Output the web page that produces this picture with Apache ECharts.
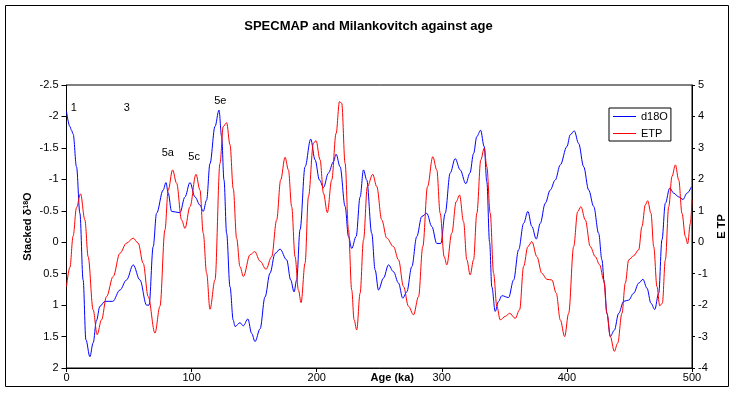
<!DOCTYPE html>
<html>
<head>
<meta charset="utf-8">
<script src="https://cdn.jsdelivr.net/npm/echarts@6/dist/echarts.min.js"></script>
<style>html,body{margin:0;padding:0;background:#fff}#c{width:737px;height:394px}</style>
</head>
<body>
<div id="c"></div>
<script>
// ---- data ----
var d18oAge = [0,2.7,4,5.3,8,10.7,13.3,15.5,18.7,21.3,24,26.7,30.7,37,42.7,48,53.3,58.7,64,66,69.3,72,77.3,79.5,81.3,84,90.7,94.7,98.7,102.7,106.7,109.3,112,114.7,118.7,121.9,124,125.9,128,130.7,133.3,134.7,138.7,141.3,145,148,150.7,154.7,158.7,162.7,166.7,170.7,176,179.2,181.9,184,186.7,190.7,195.2,198.7,202.2,205.4,209.4,213.4,215.5,218.7,222.7,225.4,228,231.5,234.7,237.4,240,244,246.7,249.4,253.4,257.4,261.4,265.4,268.8,272,276,280,284,288,292,296,299.2,302.7,306.7,310.7,314.7,319.2,322.5,325.4,328,331,333.9,336,338.2,340,342.7,345.4,348,353.4,357.4,361.4,365.4,368.8,372,375.5,378.7,382.7,386.7,390.7,394.7,400,402.7,405.9,409.4,413.4,417.4,421.4,425.4,428,429.9,432,434.7,437.9,441.4,445.4,449.4,453.4,457.4,460.8,464,467.2,470.2,473.4,476,478.7,482.2,485.4,489.4,492.8,496,499.5];
var d18oVal = [-2.08,-1.84,-1.78,-1.72,-1.2,-0.46,0.6,1.55,1.82,1.6,1.24,1.02,0.94,0.94,0.76,0.6,0.36,0.6,1.0,1.0,0.07,-0.46,-0.83,-0.95,-0.78,-0.49,-0.47,-0.72,-0.95,-0.72,-0.59,-0.49,-0.67,-1.25,-1.84,-2.1,-1.68,-0.99,-0.14,0.71,1.24,1.34,1.28,1.33,1.22,1.45,1.58,1.38,0.87,0.49,0.18,0.11,0.28,0.6,0.79,0.6,-0.2,-1.2,-1.64,-1.31,-0.99,-0.87,-1.1,-1.28,-1.4,-1.2,-0.57,-0.09,0.1,-0.09,-0.72,-1.15,-0.99,-0.14,0.44,0.76,0.57,0.36,0.47,0.65,0.89,0.79,0.39,-0.09,-0.41,-0.46,-0.25,0.02,0.02,-0.46,-1.1,-1.33,-1.15,-0.93,-1.1,-1.41,-1.68,-1.78,-1.52,-0.96,0.0,0.71,1.1,0.94,0.85,0.88,0.6,0.12,-0.3,-0.49,-0.25,-0.05,-0.3,-0.62,-0.83,-0.99,-1.23,-1.52,-1.71,-1.77,-1.57,-1.2,-0.83,-0.57,-0.14,0.28,0.65,1.13,1.5,1.4,1.13,0.94,0.92,0.81,0.65,0.59,0.73,0.97,1.07,0.81,-0.04,-0.62,-0.86,-0.78,-0.72,-0.68,-0.78,-0.88];
var etpAge = [0,2.7,5.3,8,11.2,14.7,17.3,21.3,24.5,28,32,37.3,42.7,48,53.3,57.3,61.3,65.3,70.7,74.7,78.7,81.3,84.8,88,92,94.7,98.7,103.5,106.7,109.3,112,114.7,118.7,122.7,125.3,128,130.7,133.3,136,138.7,141.4,146.7,150.5,154.7,159.5,164,168,171.2,174.7,177.4,180,182.7,185.4,187.5,190.7,193.4,197.4,199.5,202.7,205.4,208.5,212,215.5,218.2,220,222.7,225.4,228,229.9,232,234.7,237.4,240.5,244.8,248,252,256,261.4,265.4,269.4,273.4,277.4,281.4,284.8,288.6,292.8,296,298.7,301.9,304,308,311.5,314.2,317.4,320,322.7,325.4,328,331.2,333.9,336,338.7,341.4,344,346.7,350.7,354.2,358.7,362.2,365.4,368.8,372,376,380,384,388,391.5,394.7,398.2,401.4,405.4,408.6,411.2,414.7,418.7,422.7,426.2,429.4,432,434.7,437.9,440.6,444,446.7,449.4,453.4,457.4,460,462.7,464.6,467.2,469.4,472,474.2,476.3,478.7,481.4,484,486.7,489.4,492,494.7,496.5,498.7,500];
var etpVal = [-1.41,-0.8,0.2,1.1,1.54,0.71,-0.46,-2.15,-2.94,-2.47,-1.73,-1.09,-0.35,-0.03,0.13,-0.03,-0.67,-1.73,-2.89,-2.04,0.39,1.66,2.3,1.88,0.71,0.44,1.13,2.16,1.66,0.29,-0.98,-2.13,-1.2,2.51,3.68,3.8,3.1,1.7,0.12,-0.78,-1.09,-0.4,-0.3,-0.6,-0.86,-0.46,0.71,1.98,2.7,2.3,1.13,-0.46,-1.52,-1.92,-0.67,1.45,3.15,3.23,2.62,1.56,0.94,1.98,3.46,4.47,4.42,2.51,0.39,-1.52,-2.47,-2.79,-1.62,0.07,1.77,2.16,1.77,0.71,0.13,-0.14,-0.56,-1.41,-2.04,-2.31,-1.73,-0.14,1.77,2.72,2.3,0.92,-0.46,-0.72,0.29,1.29,1.5,0.65,-0.56,-1.04,-0.56,0.92,2.62,2.99,2.4,0.92,-0.99,-2.04,-2.47,-2.36,-2.26,-2.42,-2.15,-0.77,-0.14,0.02,-0.46,-0.99,-1.18,-1.2,-1.62,-2.47,-3.0,-2.26,-0.14,0.97,1.13,0.71,-0.14,-0.46,-0.72,-1.2,-2.26,-3.0,-3.47,-3.21,-2.26,-1.3,-0.56,-0.43,-0.24,0.5,1.19,1.32,0.92,-0.14,-1.41,-2.02,-1.94,-0.56,1.13,2.09,2.46,1.98,0.92,0.18,-0.05,0.6,1.35];
var annLabels = ['1','3','5a','5c','5e'];
var annAge = [5.8,48.3,81,102,123];
var annVal = [-2.13,-2.13,-1.42,-1.36,-2.25];
var xTicks = {min:0, max:500, step:100};
var leftTicks = {min:-2.5, max:2, step:0.5};
var rightTicks = {min:-4, max:5, step:1};

function pairs(a, v){ return a.map(function(x,i){ return [x, v[i]]; }); }

var FONT = 'Liberation Sans, Arial, sans-serif';
var chart = echarts.init(document.getElementById('c'), null, {renderer:'canvas'});
chart.setOption({
  animation: false,
  backgroundColor: '#fff',
  textStyle: {fontFamily: FONT, color:'#000'},
  title: {
    text: 'SPECMAP and Milankovitch against age',
    left: 'center', top: 15,
    textStyle: {fontFamily: FONT, fontSize: 13, fontWeight: 'bold', color: '#000'}
  },
  graphic: [{
    type: 'rect', silent: true,
    shape: {x: 5.5, y: 5.5, width: 723, height: 381},
    style: {fill: 'none', stroke: '#000', lineWidth: 1}
  }],
  legend: {
    orient: 'vertical', left: 609, top: 108,
    backgroundColor: '#fff', borderColor: '#000', borderWidth: 1,
    padding: [3, 3, 2, 4], itemGap: 6, itemWidth: 23, itemHeight: 1,
    icon: 'rect',
    textStyle: {fontFamily: FONT, fontSize: 11, color: '#000'},
    data: [{name:'d18O', icon:'rect', itemStyle:{color:'#0000FF'}}, {name:'ETP', icon:'rect', itemStyle:{color:'#FF0000'}}]
  },
  grid: {left: 66.5, right: 45, top: 85, bottom: 26, show: true, borderColor: '#000', borderWidth: 1, containLabel: false, outerBoundsMode: 'none'},
  xAxis: {
    type: 'value', min: xTicks.min, max: xTicks.max, interval: xTicks.step,
    name: 'Age (ka)', nameLocation: 'middle', nameGap: 4, nameMoveOverlap: false,
    nameTextStyle: {fontFamily: FONT, fontSize: 11, fontWeight: 'bold', color: '#000', padding: [0,0,0,26]},
    axisLine: {onZero: false, lineStyle: {color: '#000', width: 1}},
    axisTick: {length: 4, lineStyle: {color: '#000'}},
    axisLabel: {margin: 4, fontSize: 11, color: '#000', fontFamily: FONT},
    splitLine: {show: false}
  },
  yAxis: [{
    type: 'value', position: 'left', inverse: true,
    min: leftTicks.min, max: leftTicks.max, interval: leftTicks.step,
    name: 'Stacked δ{sup|18}O', nameLocation: 'middle', nameRotate: 90, nameGap: 33, nameMoveOverlap: false,
    nameTextStyle: {fontFamily: FONT, fontSize: 11, fontWeight: 'bold', color: '#000',
      rich: {sup: {fontFamily: FONT, fontSize: 7, fontWeight: 'bold', color:'#000', verticalAlign: 'top', lineHeight: 10, padding:[0,0,5,0]}}},
    axisLine: {show: true, onZero: false, lineStyle: {color: '#000', width: 1}},
    axisTick: {show: true, length: 5, lineStyle: {color: '#000'}},
    axisLabel: {margin: 8, fontSize: 11, color: '#000', fontFamily: FONT},
    splitLine: {show: false}
  }, {
    type: 'value', position: 'right',
    min: rightTicks.min, max: rightTicks.max, interval: rightTicks.step,
    name: 'E TP', nameLocation: 'middle', nameRotate: 90, nameGap: 24, nameMoveOverlap: false,
    nameTextStyle: {fontFamily: FONT, fontSize: 11, fontWeight: 'bold', color: '#000'},
    axisLine: {show: true, onZero: false, lineStyle: {color: '#000', width: 1}},
    axisTick: {show: true, length: 3, lineStyle: {color: '#000'}},
    axisLabel: {margin: 6, fontSize: 11, color: '#000', fontFamily: FONT},
    splitLine: {show: false}
  }],
  series: [{
    name: 'd18O', type: 'line', yAxisIndex: 0, data: pairs(d18oAge, d18oVal),
    showSymbol: false, symbol: 'none', smooth: 0.35, smoothMonotone: 'x',
    lineStyle: {color: '#0000FF', width: 1}, itemStyle: {color: '#0000FF'},
    markPoint: {
      symbol: 'circle', symbolSize: 0, silent: true,
      label: {show: true, position: 'inside', formatter: '{b}', color: '#000', fontFamily: FONT, fontSize: 11},
      data: annLabels.map(function(t,i){ return {name: t, coord: [annAge[i], annVal[i]]}; })
    },
    z: 2
  }, {
    name: 'ETP', type: 'line', yAxisIndex: 1, data: pairs(etpAge, etpVal),
    showSymbol: false, symbol: 'none', smooth: 0.35, smoothMonotone: 'x',
    lineStyle: {color: '#FF0000', width: 1}, itemStyle: {color: '#FF0000'},
    z: 3
  }]
});
</script>
</body>
</html>
